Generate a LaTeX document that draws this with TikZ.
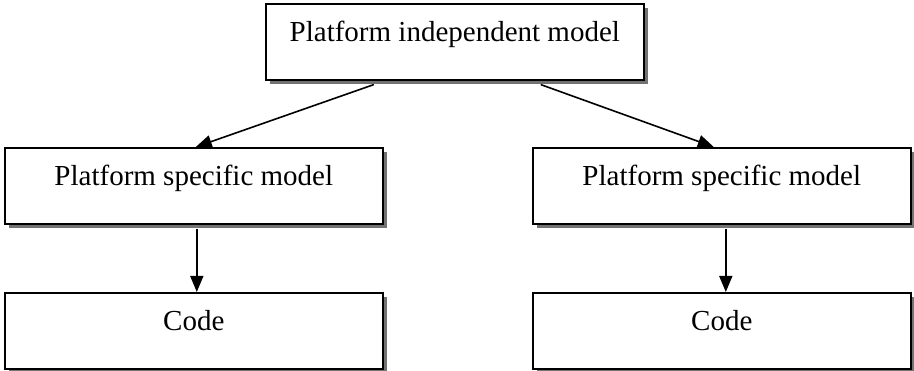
\documentclass[tikz,border=0pt]{standalone}
\usepackage{fontspec}
\setmainfont{Liberation Serif}
\usetikzlibrary{positioning,shapes,arrows,arrows.meta,calc,shadows}

\tikzset{
  modelbox/.style={draw, line width=1.6pt, fill=white, anchor=north west,
    minimum width=378pt, inner xsep=0pt, inner ysep=0pt,
    text height=38pt, text depth=38pt,
    drop shadow={shadow xshift=4pt, shadow yshift=-4pt, fill=black!55, opacity=1},
    font=\fontsize{29}{34}\selectfont},
  flow/.style={line width=1.6pt, -{Triangle[length=16pt,width=13pt]}}
}

\begin{document}
\begin{tikzpicture}[x=1pt, y=-1pt]
  \useasboundingbox (0,0) rectangle (914,371);
  \node[modelbox] (pim) at (265,3) {Platform independent model};
  \node[modelbox] (psmL) at (4,147) {Platform specific model};
  \node[modelbox] (psmR) at (532,147) {Platform specific model};
  \node[modelbox] (codeL) at (4,292) {Code};
  \node[modelbox] (codeR) at (532,292) {Code};
  \draw[flow] ($(pim.south)+(-81,4)$) -- ($(psmL.north)+(2,0)$);
  \draw[flow] ($(pim.south)+(86,4)$) -- ($(psmR.north)+(-8,0)$);
  \draw[flow] ($(psmL.south)+(3,4)$) -- ($(codeL.north)+(3,0)$);
  \draw[flow] ($(psmR.south)+(4,4)$) -- ($(codeR.north)+(4,0)$);
\end{tikzpicture}
\end{document}
